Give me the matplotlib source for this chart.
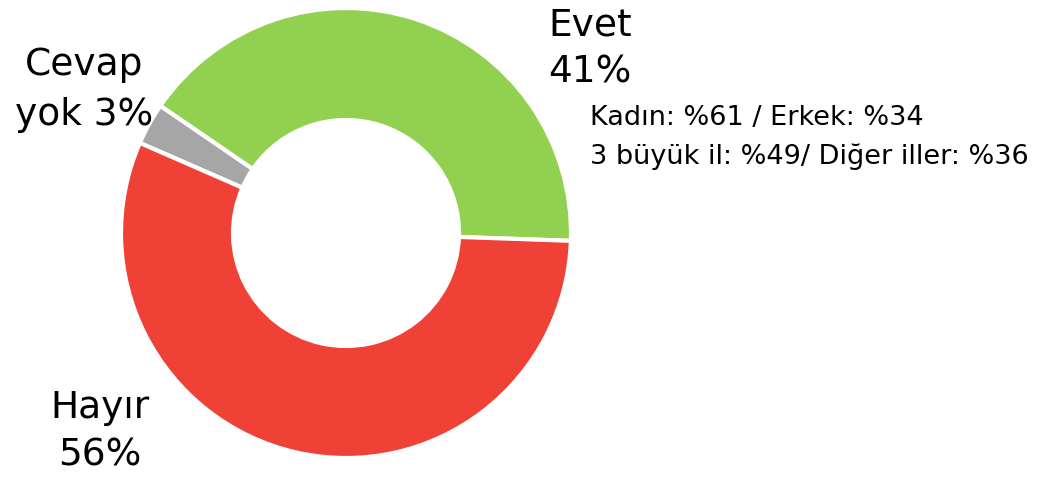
import matplotlib
matplotlib.use("Agg")
import matplotlib.pyplot as plt

labels = ["Evet", "Cevap yok", "Hayır"]
values = [41, 3, 56]
colors = ["#92D050", "#A6A6A6", "#EF4136"]
notes = ["Kadın: %61 / Erkek: %34", "3 büyük il: %49/ Diğer iller: %36"]

plt.rcParams['font.family'] = ['DejaVu Sans']

W, H = 1053, 479
fig = plt.figure(figsize=(W / 100, H / 100), dpi=100)
ax = fig.add_axes([0, 0, 1, 1])

cx, cy, R, r = 346, H - 233, 225, 113
ax.pie(values, colors=colors, startangle=-2, counterclock=True,
       center=(cx, cy), radius=R, frame=True,
       wedgeprops=dict(width=R - r, edgecolor='white', linewidth=3))
ax.set_xlim(0, W)
ax.set_ylim(0, H)
ax.set_aspect('equal')
ax.axis('off')

big = 27
ax.text(590, H - 25, labels[0], fontsize=big, ha='center', va='center')
ax.text(590, H - 72, f"{values[0]}%", fontsize=big, ha='center', va='center')
ax.text(84, H - 65, "Cevap", fontsize=big, ha='center', va='center')
ax.text(84, H - 115, f"yok {values[1]}%", fontsize=big, ha='center', va='center')
ax.text(100, H - 408, labels[2], fontsize=big, ha='center', va='center')
ax.text(100, H - 455, f"{values[2]}%", fontsize=big, ha='center', va='center')

small = 19.5
ax.text(590, H - 118, notes[0], fontsize=small, ha='left', va='center')
ax.text(590, H - 157, notes[1], fontsize=small, ha='left', va='center')

fig.savefig("out.png", dpi=100)
